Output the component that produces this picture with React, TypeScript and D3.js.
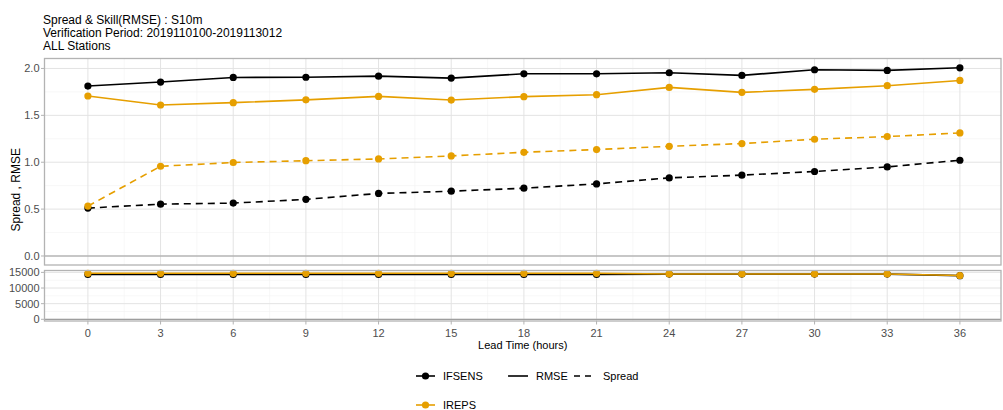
import React from 'react';
import * as d3 from 'd3';

const leadTimes = [0, 3, 6, 9, 12, 15, 18, 21, 24, 27, 30, 33, 36];
const ifsensRmse = [1.812, 1.855, 1.904, 1.906, 1.918, 1.897, 1.943, 1.943, 1.954, 1.926, 1.986, 1.979, 2.007];
const ifsensSpread = [0.511, 0.553, 0.564, 0.604, 0.667, 0.691, 0.723, 0.769, 0.833, 0.862, 0.901, 0.95, 1.021];
const irepsRmse = [1.706, 1.61, 1.635, 1.665, 1.702, 1.663, 1.699, 1.72, 1.798, 1.745, 1.777, 1.816, 1.872];
const irepsSpread = [0.532, 0.957, 0.997, 1.016, 1.035, 1.067, 1.106, 1.135, 1.17, 1.199, 1.245, 1.273, 1.312];
const ifsensCount = [14350, 14350, 14350, 14350, 14350, 14350, 14350, 14350, 14450, 14450, 14450, 14450, 13950];
const irepsCount = [14700, 14700, 14700, 14700, 14700, 14700, 14700, 14700, 14500, 14500, 14500, 14500, 14000];

const topTicks = [0, 0.5, 1, 1.5, 2];
const topMinor = [0.25, 0.75, 1.25, 1.75];
const bottomTicks = [0, 5000, 10000, 15000];
const bottomMinor = [2500, 7500, 12500];
const xMinor = [1.5, 4.5, 7.5, 10.5, 13.5, 16.5, 19.5, 22.5, 25.5, 28.5, 31.5, 34.5];

const titleLines = ['Spread & Skill(RMSE) : S10m', 'Verification Period: 2019110100-2019113012', 'ALL Stations'];

const BLACK = '#000000';
const ORANGE = '#E69F00';
const FONT = '"Liberation Sans", Arial, Helvetica, sans-serif';

const W = 1003;
const H = 410;
const left = 44.5;
const right = 1001;
const top1 = 58.5;
const bot1 = 265;
const top2 = 270.5;
const bot2 = 321;

export default function App() {
  const x = d3.scaleLinear().domain([-1.8, 37.8]).range([left - 0.2, right + 2.5]);
  const y1 = d3.scaleLinear().domain([-0.096, 2.106]).range([bot1, top1]);
  const y2 = d3.scaleLinear().domain([-540, 15600]).range([bot2, top2]);

  const line1 = (vals: number[]) =>
    d3.line<number>().x((_, i) => x(leadTimes[i])).y(d => y1(d))(vals) || '';
  const line2 = (vals: number[]) =>
    d3.line<number>().x((_, i) => x(leadTimes[i])).y(d => y2(d))(vals) || '';

  const series = [
    { vals: ifsensSpread, color: BLACK, dash: '7,5' },
    { vals: ifsensRmse, color: BLACK, dash: null },
    { vals: irepsSpread, color: ORANGE, dash: '7,5' },
    { vals: irepsRmse, color: ORANGE, dash: null },
  ];
  const counts = [
    { vals: ifsensCount, color: BLACK },
    { vals: irepsCount, color: ORANGE },
  ];

  const grid = (yScale: d3.ScaleLinear<number, number>, major: number[], minor: number[], t: number, b: number) => (
    <g>
      {xMinor.map(v => (
        <line key={'xm' + v} x1={x(v)} x2={x(v)} y1={t} y2={b} stroke="#f2f2f2" strokeWidth={0.6} />
      ))}
      {minor.map(v => (
        <line key={'ym' + v} x1={left} x2={right} y1={yScale(v)} y2={yScale(v)} stroke="#f2f2f2" strokeWidth={0.6} />
      ))}
      {leadTimes.map(v => (
        <line key={'xM' + v} x1={x(v)} x2={x(v)} y1={t} y2={b} stroke="#e3e3e3" strokeWidth={1} />
      ))}
      {major.map(v => (
        <line key={'yM' + v} x1={left} x2={right} y1={yScale(v)} y2={yScale(v)} stroke="#e3e3e3" strokeWidth={1} />
      ))}
    </g>
  );

  const yAxis = (yScale: d3.ScaleLinear<number, number>, ticks: number[], fmt: (v: number) => string) => (
    <g>
      {ticks.map(v => (
        <g key={v}>
          <line x1={left - 3.5} x2={left} y1={yScale(v)} y2={yScale(v)} stroke="#b3b3b3" strokeWidth={1} />
          <text x={left - 5} y={yScale(v)} dy="0.36em" textAnchor="end" fontSize={11} fill="#4d4d4d" fontFamily={FONT}>
            {fmt(v)}
          </text>
        </g>
      ))}
    </g>
  );

  return (
    <svg width={W} height={H} style={{ position: 'absolute', left: 0, top: 0, background: '#fff' }}>
      {titleLines.map((t, i) => (
        <text key={t} x={43} y={24 + i * 12.8} fontSize={12} fill="#000" fontFamily={FONT}>
          {t}
        </text>
      ))}

      {/* top panel */}
      {grid(y1, topTicks, topMinor, top1, bot1)}
      <line x1={left} x2={right} y1={y1(0)} y2={y1(0)} stroke="#9e9e9e" strokeWidth={1.2} />
      {series.map((s, i) => (
        <g key={i}>
          <path d={line1(s.vals)} fill="none" stroke={s.color} strokeWidth={1.6} strokeDasharray={s.dash || undefined} />
          {s.vals.map((v, j) => (
            <circle key={j} cx={x(leadTimes[j])} cy={y1(v)} r={3.6} fill={s.color} />
          ))}
        </g>
      ))}
      <rect x={left} y={top1} width={right - left} height={bot1 - top1} fill="none" stroke="#b3b3b3" strokeWidth={1.3} />
      {yAxis(y1, topTicks, d3.format('.1f'))}

      {/* bottom panel */}
      {grid(y2, bottomTicks, bottomMinor, top2, bot2)}
      <line x1={left} x2={right} y1={y2(0)} y2={y2(0)} stroke="#9e9e9e" strokeWidth={1.2} />
      {counts.map((s, i) => (
        <g key={i}>
          <path d={line2(s.vals)} fill="none" stroke={s.color} strokeWidth={1.6} />
          {s.vals.map((v, j) => (
            <circle key={j} cx={x(leadTimes[j])} cy={y2(v)} r={3.6} fill={s.color} />
          ))}
        </g>
      ))}
      <rect x={left} y={top2} width={right - left} height={bot2 - top2} fill="none" stroke="#b3b3b3" strokeWidth={1.3} />
      {yAxis(y2, bottomTicks, d3.format('d'))}

      {/* x axis */}
      {leadTimes.map(v => (
        <g key={v}>
          <line x1={x(v)} x2={x(v)} y1={bot2} y2={bot2 + 3.5} stroke="#b3b3b3" strokeWidth={1} />
          <text x={x(v)} y={337} textAnchor="middle" fontSize={11} fill="#4d4d4d" fontFamily={FONT}>
            {v}
          </text>
        </g>
      ))}
      <text x={(left + right) / 2} y={349} textAnchor="middle" fontSize={11} fill="#000" fontFamily={FONT}>
        Lead Time (hours)
      </text>
      <text
        transform={`translate(20,${(top1 + bot2) / 2}) rotate(-90)`}
        textAnchor="middle"
        fontSize={12}
        fill="#000"
        fontFamily={FONT}
      >
        Spread , RMSE
      </text>

      {/* legend */}
      <g fontFamily={FONT} fontSize={11} fill="#000">
        <line x1={416} x2={435} y1={376} y2={376} stroke={BLACK} strokeWidth={1.6} />
        <circle cx={425.5} cy={376} r={3.6} fill={BLACK} />
        <text x={443} y={376} dy="0.36em">IFSENS</text>
        <line x1={416} x2={435} y1={405} y2={405} stroke={ORANGE} strokeWidth={1.6} />
        <circle cx={425.5} cy={405} r={3.6} fill={ORANGE} />
        <text x={443} y={405} dy="0.36em">IREPS</text>
        <line x1={508} x2={528} y1={376} y2={376} stroke={BLACK} strokeWidth={1.6} />
        <text x={536} y={376} dy="0.36em">RMSE</text>
        <line x1={574} x2={595} y1={376} y2={376} stroke={BLACK} strokeWidth={1.6} strokeDasharray="6,5" />
        <text x={603} y={376} dy="0.36em">Spread</text>
      </g>
    </svg>
  );
}
